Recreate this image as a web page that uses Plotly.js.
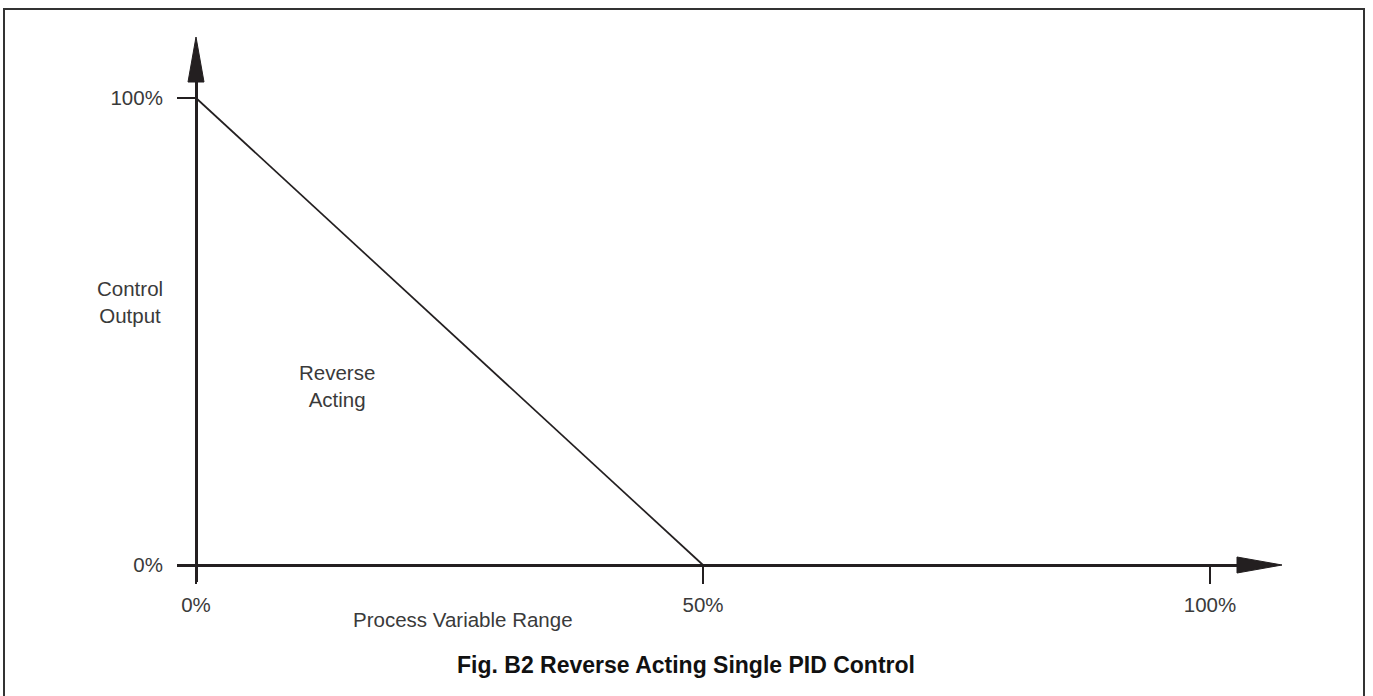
<!DOCTYPE html>
<html>
<head>
<meta charset="utf-8">
<script src="https://cdn.plot.ly/plotly-3.0.1.min.js"></script>
<style>
html,body{margin:0;padding:0;background:#fff;}
#chart{width:1373px;height:696px;}
</style>
</head>
<body>
<div id="chart"></div>
<script>
// ---- data ----
const processVariable = [0, 50];        // % of process variable range
const controlOutput = [100, 0];         // % control output
const xTickValues = [0, 50, 100];
const xTickLabels = ['0%', '50%', '100%'];
const yTickValues = [0, 100];
const yTickLabels = ['0%', '100%'];
const titleText = 'Fig. B2 Reverse Acting Single PID Control';
const xLabel = 'Process Variable Range';
const yLabel = 'Control<br>Output';
const curveLabel = 'Reverse<br>Acting';

// ---- layout geometry (pixels) ----
const FW = 1373, FH = 696;
const L = 177, R = 1240, T = 82, B = 582;
const W = R - L, H = B - T;
const x0px = 196, x100px = 1210;
const y0px = 565, y100px = 98;
const sx = (x100px - x0px) / 100;
const sy = (y0px - y100px) / 100;
const xRange = [-(x0px - L) / sx, 100 + (R - x100px) / sx];
const yRange = [-(B - y0px) / sy, 100 + (y100px - T) / sy];
const px = x => (x - L) / W;
const py = y => (B - y) / H;

const ink = '#231f20';
const textCol = '#3a3a3a';
const fam = '"Liberation Sans", Arial, Helvetica, sans-serif';
const fs = 20.5;

const traces = [{
  x: processVariable,
  y: controlOutput,
  type: 'scatter',
  mode: 'lines',
  line: {color: ink, width: 1.7},
  hoverinfo: 'skip',
  showlegend: false,
  cliponaxis: false
}];

const layout = {
  width: FW, height: FH,
  margin: {l: L, r: FW - R, t: T, b: FH - B, pad: 0},
  paper_bgcolor: '#fff',
  plot_bgcolor: 'rgba(0,0,0,0)',
  showlegend: false,
  title: {
    text: titleText,
    x: 686 / FW, y: 1 - 665 / FH,
    xref: 'container', yref: 'container',
    xanchor: 'center', yanchor: 'middle',
    font: {family: fam, size: 23, color: '#111', weight: 'bold'}
  },
  xaxis: {
    range: xRange,
    anchor: 'free', position: py(y0px),
    showline: true, linecolor: ink, linewidth: 2.5,
    ticks: 'outside', ticklen: 17, tickwidth: 2, tickcolor: ink,
    tickvals: xTickValues, ticktext: xTickLabels,
    tickfont: {family: fam, size: fs, color: textCol},
    ticklabelstandoff: 4,
    showgrid: false, zeroline: false, fixedrange: true
  },
  yaxis: {
    range: yRange,
    anchor: 'free', position: px(x0px),
    showline: true, linecolor: ink, linewidth: 2.5,
    ticks: 'outside', ticklen: 18, tickwidth: 2, tickcolor: ink,
    tickvals: yTickValues, ticktext: yTickLabels,
    tickfont: {family: fam, size: fs, color: textCol},
    ticklabelstandoff: 10,
    showgrid: false, zeroline: false, fixedrange: true
  },
  shapes: [
    // figure frame
    {type: 'path', xref: 'paper', yref: 'paper',
     path: `M ${px(4)},${py(710)} L ${px(4)},${py(9)} L ${px(1364)},${py(9)} L ${px(1364)},${py(710)}`,
     line: {color: '#333', width: 2}},
    // y arrow head
    {type: 'path', xref: 'paper', yref: 'paper',
     path: `M ${px(x0px)},${py(37)} L ${px(x0px - 8)},${py(T)} L ${px(x0px + 8)},${py(T)} Z`,
     fillcolor: ink, line: {color: ink, width: 1}},
    // x arrow head
    {type: 'path', xref: 'paper', yref: 'paper',
     path: `M ${px(1282)},${py(y0px)} L ${px(1237)},${py(y0px - 8)} L ${px(1237)},${py(y0px + 8)} Z`,
     fillcolor: ink, line: {color: ink, width: 1}}
  ],
  annotations: [
    {text: yLabel, xref: 'paper', yref: 'paper', x: px(130), y: py(302),
     xanchor: 'center', yanchor: 'middle', showarrow: false, align: 'center',
     font: {family: fam, size: fs, color: textCol}},
    {text: curveLabel, xref: 'paper', yref: 'paper', x: px(337), y: py(386),
     xanchor: 'center', yanchor: 'middle', showarrow: false, align: 'center',
     font: {family: fam, size: fs, color: textCol}},
    {text: xLabel, xref: 'paper', yref: 'paper', x: px(463), y: py(619),
     xanchor: 'center', yanchor: 'middle', showarrow: false,
     font: {family: fam, size: fs, color: textCol}}
  ]
};

Plotly.newPlot('chart', traces, layout, {staticPlot: true, displayModeBar: false});
</script>
</body>
</html>
